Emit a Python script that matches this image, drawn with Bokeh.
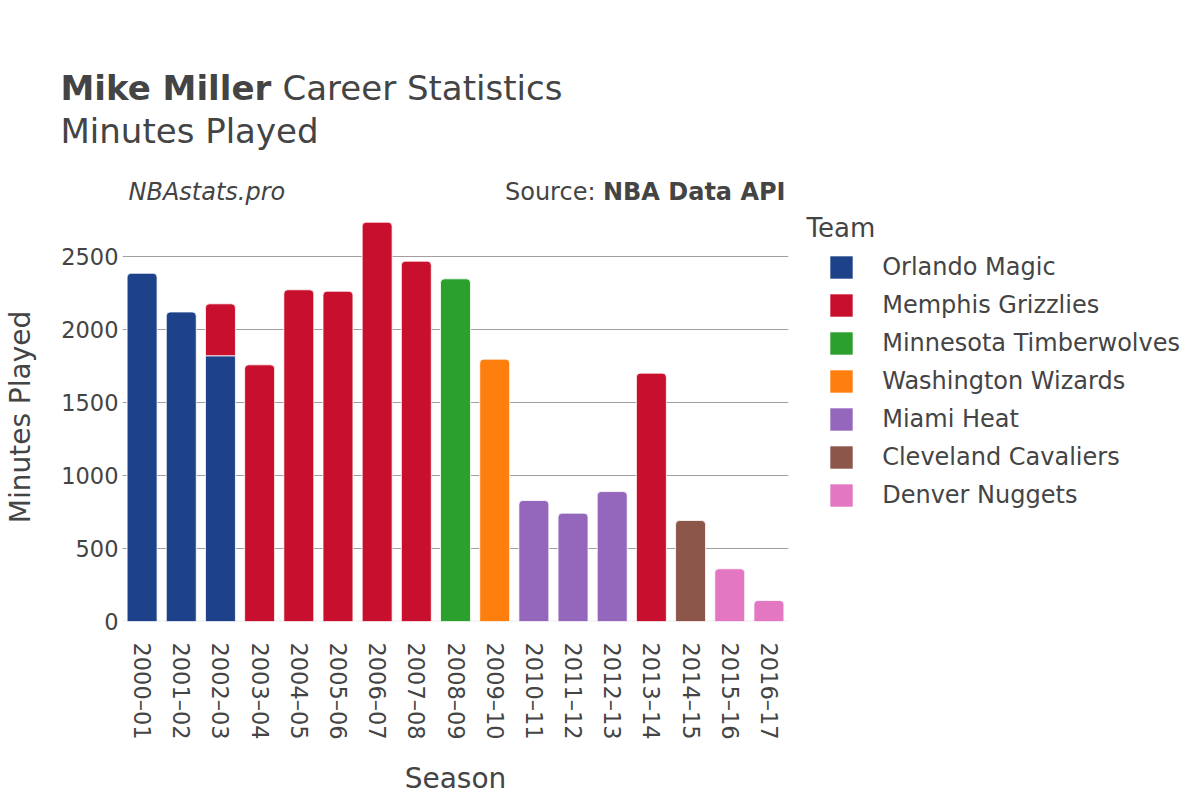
import math
from bokeh.plotting import figure
from bokeh.layouts import column, row
from bokeh.models import (FactorRange, Range1d, FixedTicker, Label, Legend,
                          LegendItem, Span, ColumnDataSource)
from bokeh.embed import file_html
from bokeh.resources import INLINE

seasons = ["2000–01", "2001–02", "2002–03", "2003–04", "2004–05", "2005–06",
           "2006–07", "2007–08", "2008–09", "2009–10", "2010–11", "2011–12",
           "2012–13", "2013–14", "2014–15", "2015–16", "2016–17"]

teams = ["Orlando Magic", "Memphis Grizzlies", "Minnesota Timberwolves",
         "Washington Wizards", "Miami Heat", "Cleveland Cavaliers", "Denver Nuggets"]
team_colors = ["#1d428a", "#c8102e", "#2ca02c", "#ff7f0e", "#9467bd", "#8c564b", "#e377c2"]

orlando_magic = [2385, 2120, 1820, 0, 0, 0, 0, 0, 0, 0, 0, 0, 0, 0, 0, 0, 0]
memphis_grizzlies = [0, 0, 356, 1758, 2272, 2262, 2735, 2468, 0, 0, 0, 0, 0, 1701, 0, 0, 0]
minnesota_timberwolves = [0, 0, 0, 0, 0, 0, 0, 0, 2347, 0, 0, 0, 0, 0, 0, 0, 0]
washington_wizards = [0, 0, 0, 0, 0, 0, 0, 0, 0, 1797, 0, 0, 0, 0, 0, 0, 0]
miami_heat = [0, 0, 0, 0, 0, 0, 0, 0, 0, 0, 829, 742, 890, 0, 0, 0, 0]
cleveland_cavaliers = [0, 0, 0, 0, 0, 0, 0, 0, 0, 0, 0, 0, 0, 0, 692, 0, 0]
denver_nuggets = [0, 0, 0, 0, 0, 0, 0, 0, 0, 0, 0, 0, 0, 0, 0, 361, 144]

team_minutes = [orlando_magic, memphis_grizzlies, minnesota_timberwolves,
                washington_wizards, miami_heat, cleveland_cavaliers, denver_nuggets]

y_ticks = [0, 500, 1000, 1500, 2000, 2500]

FONT = "DejaVu Sans"
TXT = "#444444"

HEADER_H = 212
MAIN_W = 795
BODY_H = 800 - HEADER_H
FRAME_BOTTOM = 621  # page y of the chart's zero line


def blank(w, h, x_range=None, y_range=None):
    f = figure(width=w, height=h, output_backend="svg", toolbar_location=None,
               x_axis_location=None, y_axis_location=None,
               x_range=x_range if x_range is not None else Range1d(0, 1),
               y_range=y_range if y_range is not None else Range1d(0, 1),
               min_border=0, min_border_left=0, min_border_right=0,
               min_border_top=0, min_border_bottom=0)
    f.outline_line_color = None
    f.xgrid.visible = False
    f.ygrid.visible = False
    return f


def lab(fig, text, x, base_y, ref_bottom, size, style="normal", align="left"):
    # base_y: page y of the text baseline; ref_bottom: page y of the frame bottom
    y = ref_bottom - base_y + 0.375 * size
    fig.add_layout(Label(x=x, y=y, x_units="screen", y_units="screen", text=text,
                         text_font=FONT, text_font_size=f"{size}px", text_font_style=style,
                         text_color=TXT, text_align=align, text_baseline="alphabetic"))


# ---------------- header ----------------
header = blank(1200, HEADER_H)
lab(header, "Mike Miller", 60, 100, HEADER_H, 34, "bold")
lab(header, "Career Statistics", 282, 100, HEADER_H, 34)
lab(header, "Minutes Played", 60, 143, HEADER_H, 34)
lab(header, "NBAstats.pro", 128, 200, HEADER_H, 24, "italic")
lab(header, "Source:", 595, 200, HEADER_H, 24, align="right")
lab(header, "NBA Data API", 785, 200, HEADER_H, 24, "bold", align="right")

# ---------------- main chart ----------------
frame_bottom = FRAME_BOTTOM - HEADER_H
p = figure(width=MAIN_W, height=BODY_H, output_backend="svg", toolbar_location=None,
           x_range=FactorRange(*seasons, range_padding=0),
           y_range=Range1d(0, frame_bottom / 0.146),
           min_border_left=122, min_border_right=MAIN_W - 788,
           min_border_top=0, min_border_bottom=BODY_H - frame_bottom)
p.outline_line_color = None

p.xaxis.axis_line_color = None
p.xaxis.major_tick_line_color = None
p.xaxis.major_tick_out = 0
p.xaxis.major_tick_in = 0
p.xaxis.minor_tick_line_color = None
p.xaxis.major_label_orientation = -math.pi / 2
p.xaxis.major_label_text_font = FONT
p.xaxis.major_label_text_font_size = "22.5px"
p.xaxis.major_label_text_color = TXT
p.xaxis.major_label_standoff = 21
p.xaxis.axis_label = "Season"
p.xaxis.axis_label_text_font = FONT
p.xaxis.axis_label_text_font_size = "28px"
p.xaxis.axis_label_text_font_style = "normal"
p.xaxis.axis_label_text_color = TXT
p.xaxis.axis_label_standoff = 19

p.yaxis.ticker = FixedTicker(ticks=y_ticks)
p.yaxis.axis_line_color = None
p.yaxis.major_tick_line_color = None
p.yaxis.major_tick_out = 0
p.yaxis.major_tick_in = 0
p.yaxis.minor_tick_line_color = None
p.yaxis.major_label_text_font = FONT
p.yaxis.major_label_text_font_size = "22.5px"
p.yaxis.major_label_text_color = TXT
p.yaxis.major_label_standoff = 4
p.yaxis.axis_label = "Minutes Played"
p.yaxis.axis_label_text_font = FONT
p.yaxis.axis_label_text_font_size = "28px"
p.yaxis.axis_label_text_font_style = "normal"
p.yaxis.axis_label_text_color = TXT
p.yaxis.axis_label_standoff = 21

p.xgrid.grid_line_color = None
p.ygrid.ticker = FixedTicker(ticks=y_ticks[1:])
p.ygrid.grid_line_color = "#a0a0a0"
p.ygrid.grid_line_width = 1

p.add_layout(Span(location=0, dimension="width", line_color="#ebebeb",
                  line_width=2, level="underlay"))

# legend panel: shares the season factors; the legend's proxy bars are hidden
side = blank(1200 - MAIN_W, BODY_H,
             x_range=FactorRange(*seasons, range_padding=0),
             y_range=Range1d(0, 1))

cum = [0] * len(seasons)
items = []
for ti, (team, col, vals) in enumerate(zip(teams, team_colors, team_minutes)):
    top_rows = {"season": [], "bottom": [], "top": []}
    low_rows = {"season": [], "bottom": [], "top": []}
    for si, v in enumerate(vals):
        if v <= 0:
            continue
        above = sum(team_minutes[tj][si] for tj in range(ti + 1, len(teams)))
        target = low_rows if above > 0 else top_rows
        target["season"].append(seasons[si])
        target["bottom"].append(cum[si])
        target["top"].append(cum[si] + v)
        cum[si] += v
    all_src = ColumnDataSource({"season": top_rows["season"] + low_rows["season"],
                                "bottom": top_rows["bottom"] + low_rows["bottom"],
                                "top": top_rows["top"] + low_rows["top"]})
    if top_rows["season"]:
        p.vbar(x="season", bottom="bottom", top="top", width=0.765,
               source=ColumnDataSource(top_rows), fill_color=col,
               line_color="white", line_width=0.8, border_radius=(4, 4, 0, 0))
    if low_rows["season"]:
        p.vbar(x="season", bottom="bottom", top="top", width=0.765,
               source=ColumnDataSource(low_rows), fill_color=col,
               line_color="white", line_width=0.8)
    proxy = side.vbar(x="season", bottom="bottom", top="top", width=0.765,
                      source=all_src, fill_color=col, line_color=None, visible=False)
    items.append(LegendItem(label=team, renderers=[proxy]))

lab(side, "Team", 806 - MAIN_W, 237, FRAME_BOTTOM, 26)
row_h = 28
last_center = 494.7
legend = Legend(items=items, location=(32.2, FRAME_BOTTOM - (last_center + row_h / 2)),
                padding=0, margin=0, border_line_color=None, background_fill_alpha=0,
                glyph_width=28, glyph_height=28, label_height=row_h, label_standoff=27,
                label_text_font=FONT, label_text_font_size="24px",
                label_text_color=TXT, spacing=38 - row_h,
                inactive_fill_alpha=0)
side.add_layout(legend, "center")

layout = column(header, row(p, side, spacing=0), spacing=0)
open("out.html", "w").write(file_html(layout, INLINE))
